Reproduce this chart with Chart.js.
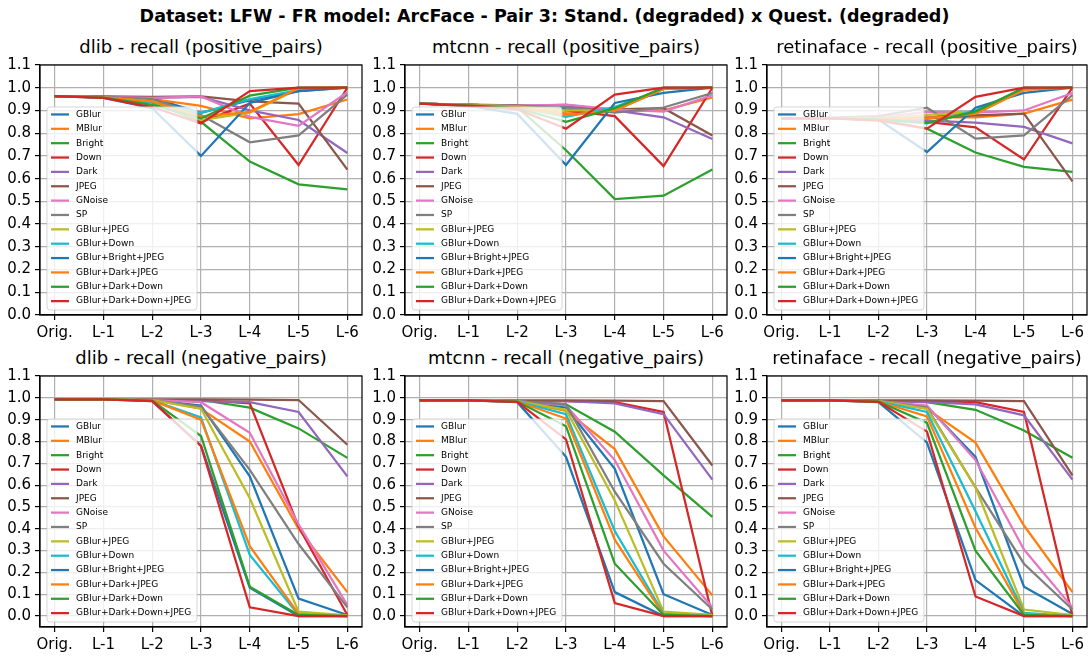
<!DOCTYPE html>
<html lang="en">
<head>
<meta charset="UTF-8">
<title>LFW - ArcFace - Pair 3 recall</title>
<script src="https://cdn.jsdelivr.net/npm/chart.js"></script>
<style>
  body { margin: 0; background: #fff; width: 1089px; height: 656px; position: relative; overflow: hidden; font-family: "DejaVu Sans", sans-serif; }
  .sup { position: absolute; left: 0; width: 1089px; top: 5px; line-height: 22px; text-align: center; font-weight: bold; font-size: 17.5px; color: #000; }
  .ttl { position: absolute; line-height: 22px; text-align: center; font-size: 18px; color: #000; white-space: nowrap; }
  canvas { position: absolute; }
</style>
</head>
<body>
<div class="sup">Dataset: LFW - FR model: ArcFace - Pair 3: Stand. (degraded) x Quest. (degraded)</div>
<script>
const levels = ['Orig.', 'L-1', 'L-2', 'L-3', 'L-4', 'L-5', 'L-6'];
const yTicks = [0.0, 0.1, 0.2, 0.3, 0.4, 0.5, 0.6, 0.7, 0.8, 0.9, 1.0, 1.1];
const series = ['GBlur', 'MBlur', 'Bright', 'Down', 'Dark', 'JPEG', 'GNoise', 'SP',
    'GBlur+JPEG', 'GBlur+Down', 'GBlur+Bright+JPEG', 'GBlur+Dark+JPEG', 'GBlur+Dark+Down', 'GBlur+Dark+Down+JPEG'];
const colors = ['#1f77b4', '#ff7f0e', '#2ca02c', '#d62728', '#9467bd', '#8c564b', '#e377c2', '#7f7f7f',
    '#bcbd22', '#17becf', '#1f77b4', '#ff7f0e', '#2ca02c', '#d62728'];

// one row per entry of `series`, one value per level
const dlibPos = [
    [0.963, 0.960, 0.955, 0.890, 0.945, 0.985, 1.000],
    [0.963, 0.960, 0.950, 0.920, 0.865, 0.884, 0.948],
    [0.963, 0.958, 0.935, 0.850, 0.675, 0.575, 0.553],
    [0.963, 0.958, 0.955, 0.850, 0.930, 0.660, 1.000],
    [0.963, 0.960, 0.955, 0.960, 0.900, 0.858, 0.713],
    [0.963, 0.962, 0.960, 0.962, 0.940, 0.930, 0.640],
    [0.963, 0.960, 0.955, 0.962, 0.872, 0.832, 0.980],
    [0.963, 0.960, 0.950, 0.880, 0.760, 0.790, 0.970],
    [0.963, 0.958, 0.940, 0.858, 0.890, 0.995, 1.000],
    [0.963, 0.958, 0.935, 0.890, 0.950, 0.990, 1.000],
    [0.963, 0.955, 0.910, 0.700, 0.933, 0.985, 1.000],
    [0.963, 0.958, 0.940, 0.873, 0.894, 0.998, 1.000],
    [0.963, 0.957, 0.925, 0.865, 0.965, 1.000, 1.000],
    [0.963, 0.955, 0.915, 0.843, 0.985, 1.000, 1.000]
];
const mtcnnPos = [
    [0.930, 0.925, 0.920, 0.905, 0.900, 0.995, 1.000],
    [0.930, 0.925, 0.920, 0.887, 0.895, 0.900, 0.957],
    [0.930, 0.925, 0.915, 0.725, 0.510, 0.525, 0.640],
    [0.930, 0.925, 0.920, 0.900, 0.875, 0.655, 1.000],
    [0.930, 0.925, 0.920, 0.925, 0.900, 0.870, 0.774],
    [0.930, 0.926, 0.922, 0.915, 0.905, 0.910, 0.790],
    [0.930, 0.925, 0.920, 0.926, 0.905, 0.895, 0.967],
    [0.930, 0.925, 0.920, 0.915, 0.890, 0.913, 0.977],
    [0.930, 0.925, 0.918, 0.900, 0.900, 0.995, 1.000],
    [0.930, 0.925, 0.915, 0.872, 0.915, 0.995, 1.000],
    [0.930, 0.920, 0.885, 0.660, 0.933, 0.977, 1.000],
    [0.930, 0.925, 0.915, 0.880, 0.900, 0.995, 1.000],
    [0.930, 0.922, 0.910, 0.850, 0.910, 1.000, 1.000],
    [0.930, 0.920, 0.905, 0.820, 0.970, 1.000, 1.000]
];
const retinaPos = [
    [0.865, 0.865, 0.865, 0.870, 0.885, 0.995, 1.000],
    [0.865, 0.865, 0.865, 0.870, 0.870, 0.886, 0.948],
    [0.865, 0.865, 0.860, 0.820, 0.715, 0.652, 0.630],
    [0.865, 0.865, 0.865, 0.850, 0.826, 0.684, 1.000],
    [0.865, 0.865, 0.865, 0.855, 0.846, 0.828, 0.755],
    [0.865, 0.866, 0.866, 0.865, 0.878, 0.886, 0.588],
    [0.865, 0.866, 0.868, 0.894, 0.890, 0.900, 0.977],
    [0.865, 0.868, 0.875, 0.912, 0.776, 0.790, 0.967],
    [0.865, 0.865, 0.865, 0.880, 0.895, 0.995, 1.000],
    [0.865, 0.865, 0.860, 0.843, 0.900, 0.995, 1.000],
    [0.865, 0.865, 0.860, 0.717, 0.912, 0.977, 1.000],
    [0.865, 0.865, 0.865, 0.865, 0.885, 0.990, 1.000],
    [0.865, 0.865, 0.860, 0.845, 0.895, 1.000, 1.000],
    [0.865, 0.865, 0.855, 0.820, 0.960, 1.000, 1.000]
];
const dlibNeg = [
    [0.993, 0.993, 0.990, 0.965, 0.640, 0.080, 0.005],
    [0.993, 0.993, 0.990, 0.950, 0.800, 0.400, 0.110],
    [0.993, 0.993, 0.990, 0.990, 0.955, 0.860, 0.725],
    [0.993, 0.993, 0.990, 0.990, 0.975, 0.410, 0.005],
    [0.993, 0.993, 0.990, 0.985, 0.980, 0.935, 0.640],
    [0.993, 0.993, 0.993, 0.993, 0.992, 0.990, 0.785],
    [0.993, 0.993, 0.990, 0.980, 0.840, 0.420, 0.050],
    [0.993, 0.993, 0.990, 0.960, 0.670, 0.330, 0.040],
    [0.993, 0.993, 0.990, 0.950, 0.540, 0.020, 0.003],
    [0.993, 0.993, 0.988, 0.910, 0.280, 0.005, 0.000],
    [0.993, 0.993, 0.985, 0.780, 0.130, 0.000, 0.000],
    [0.993, 0.993, 0.988, 0.900, 0.320, 0.010, 0.000],
    [0.993, 0.993, 0.987, 0.825, 0.135, 0.005, 0.000],
    [0.993, 0.993, 0.985, 0.780, 0.040, 0.000, 0.000]
];
const mtcnnNeg = [
    [0.988, 0.988, 0.985, 0.955, 0.675, 0.100, 0.005],
    [0.988, 0.988, 0.985, 0.940, 0.765, 0.365, 0.095],
    [0.988, 0.988, 0.985, 0.970, 0.845, 0.645, 0.455],
    [0.988, 0.988, 0.985, 0.985, 0.980, 0.935, 0.000],
    [0.988, 0.988, 0.985, 0.985, 0.975, 0.925, 0.625],
    [0.988, 0.988, 0.988, 0.988, 0.987, 0.985, 0.690],
    [0.988, 0.988, 0.985, 0.965, 0.715, 0.300, 0.040],
    [0.988, 0.988, 0.985, 0.970, 0.570, 0.240, 0.030],
    [0.988, 0.988, 0.985, 0.945, 0.530, 0.020, 0.005],
    [0.988, 0.988, 0.984, 0.925, 0.390, 0.010, 0.000],
    [0.988, 0.988, 0.980, 0.730, 0.110, 0.000, 0.000],
    [0.988, 0.988, 0.983, 0.905, 0.350, 0.005, 0.000],
    [0.988, 0.988, 0.983, 0.870, 0.240, 0.005, 0.000],
    [0.988, 0.988, 0.982, 0.810, 0.060, 0.000, 0.000]
];
const retinaNeg = [
    [0.988, 0.988, 0.985, 0.960, 0.730, 0.135, 0.010],
    [0.988, 0.988, 0.985, 0.950, 0.795, 0.415, 0.110],
    [0.988, 0.988, 0.985, 0.980, 0.945, 0.850, 0.725],
    [0.988, 0.988, 0.985, 0.985, 0.980, 0.935, 0.000],
    [0.988, 0.988, 0.985, 0.980, 0.970, 0.920, 0.625],
    [0.988, 0.988, 0.988, 0.988, 0.987, 0.985, 0.645],
    [0.988, 0.988, 0.985, 0.965, 0.715, 0.305, 0.040],
    [0.988, 0.988, 0.985, 0.955, 0.590, 0.240, 0.030],
    [0.988, 0.988, 0.985, 0.950, 0.590, 0.030, 0.005],
    [0.988, 0.988, 0.984, 0.935, 0.480, 0.015, 0.000],
    [0.988, 0.988, 0.980, 0.795, 0.165, 0.000, 0.000],
    [0.988, 0.988, 0.983, 0.915, 0.405, 0.010, 0.000],
    [0.988, 0.988, 0.983, 0.885, 0.300, 0.005, 0.000],
    [0.988, 0.988, 0.982, 0.845, 0.090, 0.000, 0.000]
];

const panels = [
    { title: 'dlib - recall (positive_pairs)', values: dlibPos, col: 0, row: 0 },
    { title: 'mtcnn - recall (positive_pairs)', values: mtcnnPos, col: 1, row: 0 },
    { title: 'retinaface - recall (positive_pairs)', values: retinaPos, col: 2, row: 0 },
    { title: 'dlib - recall (negative_pairs)', values: dlibNeg, col: 0, row: 1 },
    { title: 'mtcnn - recall (negative_pairs)', values: mtcnnNeg, col: 1, row: 1 },
    { title: 'retinaface - recall (negative_pairs)', values: retinaNeg, col: 2, row: 1 }
];

// plot area edges in page pixels
const colLeft = [40, 405, 767];
const colRight = [362, 727, 1087];
const rowTop = [62, 373];
const rowBottom = [315, 627];

const tickFont = { family: 'DejaVu Sans', size: 15 };

// axes box + matplotlib-style legend drawn over the lines
const frameLegend = {
    id: 'frameLegend',
    afterDatasetsDraw(chart) {
        const ctx = chart.ctx, a = chart.chartArea;
        ctx.save();
        ctx.strokeStyle = '#000';
        ctx.lineWidth = 1.2;
        ctx.strokeRect(a.left, a.top, a.right - a.left, a.bottom - a.top);

        const rowH = 14.36, w = 150, h = rowH * series.length + 2;
        const x = a.left + 7, y = a.bottom - 5 - h;
        ctx.globalAlpha = 0.8;
        ctx.beginPath();
        ctx.roundRect(x, y, w, h, 3);
        ctx.fillStyle = '#fff';
        ctx.fill();
        ctx.strokeStyle = '#ccc';
        ctx.lineWidth = 1;
        ctx.stroke();
        ctx.globalAlpha = 1;

        ctx.font = '9px "DejaVu Sans"';
        ctx.textBaseline = 'middle';
        series.forEach((name, i) => {
            const cy = y + 7.5 + rowH * i;
            ctx.strokeStyle = colors[i];
            ctx.lineWidth = 2.25;
            ctx.beginPath();
            ctx.moveTo(x + 4, cy);
            ctx.lineTo(x + 22, cy);
            ctx.stroke();
            ctx.fillStyle = '#000';
            ctx.fillText(name, x + 29, cy);
        });
        ctx.restore();
    }
};

panels.forEach(p => {
    const L = colLeft[p.col], R = colRight[p.col], T = rowTop[p.row], B = rowBottom[p.row];

    const t = document.createElement('div');
    t.className = 'ttl';
    t.textContent = p.title;
    t.style.left = (L - 40) + 'px';
    t.style.width = (R - L + 80) + 'px';
    t.style.top = (T - 26) + 'px';
    document.body.appendChild(t);

    const cv = document.createElement('canvas');
    cv.width = R - L + 42;
    cv.height = B - T + 40;
    cv.style.left = (L - 40) + 'px';
    cv.style.top = (T - 10) + 'px';
    document.body.appendChild(cv);

    new Chart(cv, {
        type: 'line',
        data: {
            datasets: series.map((name, i) => ({
                label: name,
                data: p.values[i].map((v, j) => ({ x: j, y: v })),
                borderColor: colors[i],
                backgroundColor: colors[i],
                borderWidth: 2.25,
                pointRadius: 0,
                tension: 0,
                fill: false,
                order: -i
            }))
        },
        options: {
            responsive: false,
            animation: false,
            layout: { padding: { left: 0, right: 2, top: 10, bottom: 0 } },
            plugins: { legend: { display: false }, tooltip: { enabled: false } },
            scales: {
                x: {
                    type: 'linear',
                    min: -0.3,
                    max: 6.3,
                    afterBuildTicks: s => { s.ticks = levels.map((_, i) => ({ value: i })); },
                    afterFit: s => { s.height = 30; },
                    ticks: { callback: v => levels[v], font: tickFont, color: '#000', padding: 4, autoSkip: false, maxRotation: 0 },
                    grid: { color: '#b0b0b0', lineWidth: 1.2, tickColor: '#000', tickLength: 5 },
                    border: { color: '#000', width: 1.2 }
                },
                y: {
                    min: p.row ? -0.05 : 0,
                    max: 1.1,
                    afterBuildTicks: s => { s.ticks = yTicks.map(v => ({ value: v })); },
                    afterFit: s => { s.width = 40; },
                    ticks: { callback: v => v.toFixed(1), font: tickFont, color: '#000', padding: 4 },
                    grid: { color: '#b0b0b0', lineWidth: 1.2, tickColor: '#000', tickLength: 5 },
                    border: { color: '#000', width: 1.2 }
                }
            }
        },
        plugins: [frameLegend]
    });
});
</script>
</body>
</html>
